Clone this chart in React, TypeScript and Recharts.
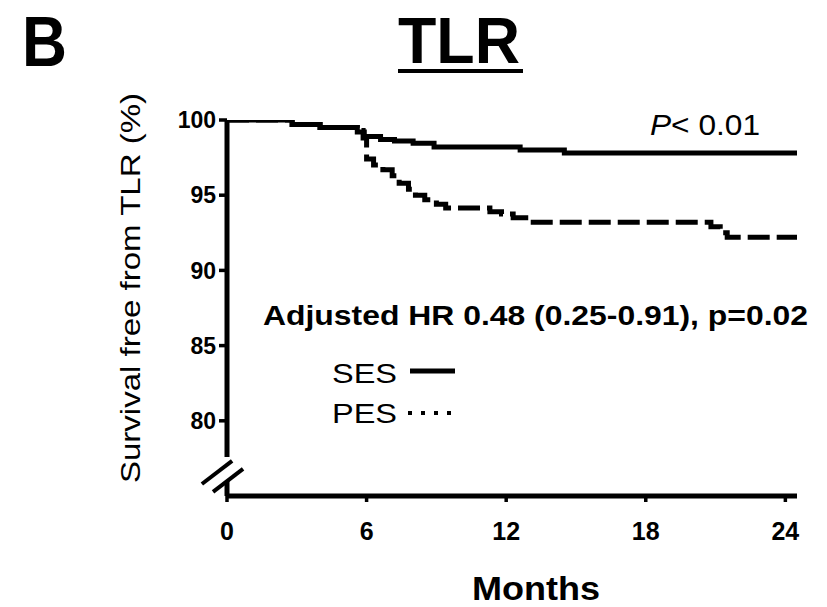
import { LineChart, Line, XAxis, YAxis, Legend, ReferenceLine } from "recharts"

const monthTicks = [0, 6, 12, 18, 24]
const survivalTicks = [80, 85, 90, 95, 100]

const sesMonths = [0, 2.8, 4.0, 5.6, 5.9, 6.6, 7.2, 8.0, 8.9, 12.6, 14.5, 24.5]
const sesSurvival = [100, 99.7, 99.5, 99.2, 98.9, 98.7, 98.6, 98.45, 98.2, 98.0, 97.8, 97.8]

const pesMonths = [0, 2.8, 4.0, 5.6, 5.85, 6.0, 6.3, 6.7, 7.1, 7.4, 7.8, 8.1, 8.5, 9.0, 9.4, 11.3, 11.8, 12.3, 13.0, 20.8, 21.2, 21.5, 24.5]
const pesSurvival = [100, 99.7, 99.5, 99.3, 98.8, 97.4, 97.0, 96.7, 96.3, 95.8, 95.4, 95.0, 94.7, 94.4, 94.15, 93.9, 93.75, 93.5, 93.2, 92.9, 92.5, 92.2, 92.2]

const ses = sesMonths.map((m, i) => ({ month: m, survival: sesSurvival[i] }))
const pes = pesMonths.map((m, i) => ({ month: m, survival: pesSurvival[i] }))

const font = "'Liberation Sans', Arial, sans-serif"

function KmLegend() {
  return (
    <svg width={140} height={80}>
      <text x={2} y={28} fontFamily={font} fontSize={28} textLength={65} lengthAdjust="spacingAndGlyphs">SES</text>
      <line x1={80} x2={125} y1={16} y2={16} stroke="#000" strokeWidth={5} />
      <text x={2} y={68} fontFamily={font} fontSize={28} textLength={65} lengthAdjust="spacingAndGlyphs">PES</text>
      <line x1={78} x2={122} y1={58} y2={58} stroke="#000" strokeWidth={4} strokeDasharray="4 9" />
    </svg>
  )
}

export default function App() {
  return (
    <div style={{ position: "absolute", left: 0, top: 0, width: 827, height: 607, background: "#fff" }}>
      <LineChart width={827} height={607} margin={{ top: 120, right: 30, left: 167, bottom: 51 }}>
        <XAxis
          dataKey="month"
          type="number"
          domain={[0, 24.5]}
          ticks={monthTicks}
          allowDataOverflow
          height={60}
          axisLine={{ stroke: "#000", strokeWidth: 5 }}
          tickLine={{ stroke: "#000", strokeWidth: 3.5 }}
          tickSize={6}
          tickMargin={20}
          tick={{ fill: "#000", fontSize: 25, fontWeight: "bold", fontFamily: font }}
        />
        <YAxis
          type="number"
          domain={[75, 100]}
          ticks={survivalTicks}
          allowDataOverflow
          width={60}
          axisLine={false}
          tickLine={{ stroke: "#000", strokeWidth: 3.5 }}
          tickSize={8}
          tickMargin={3}
          tick={{ fill: "#000", fontSize: 23, fontWeight: "bold", fontFamily: font }}
        />
        {/* broken y axis */}
        <ReferenceLine segment={[{ x: 0, y: 100 }, { x: 0, y: 77.6 }]} stroke="#000" strokeWidth={5} ifOverflow="visible" />
        <ReferenceLine segment={[{ x: 0, y: 76.0 }, { x: 0, y: 75 }]} stroke="#000" strokeWidth={5} ifOverflow="visible" />
        <ReferenceLine segment={[{ x: -1.08, y: 75.8 }, { x: 0.22, y: 77.33 }]} stroke="#000" strokeWidth={4} ifOverflow="visible" />
        <ReferenceLine segment={[{ x: -0.6, y: 75.27 }, { x: 0.69, y: 76.8 }]} stroke="#000" strokeWidth={4} ifOverflow="visible" />
        <Line data={ses} dataKey="survival" name="SES" type="stepAfter" stroke="#000" strokeWidth={5} dot={false} isAnimationActive={false} />
        <Line data={pes} dataKey="survival" name="PES" type="stepAfter" stroke="#000" strokeWidth={5} strokeDasharray="22 7" dot={false} isAnimationActive={false} />
        <Legend layout="vertical" align="center" verticalAlign="middle" content={KmLegend} wrapperStyle={{ left: 330, top: 355, width: 140, height: 80 }} />
      </LineChart>
      <svg width={827} height={607} style={{ position: "absolute", left: 0, top: 0, pointerEvents: "none" }}>
        <text x={22} y={66} fontFamily={font} fontSize={70} fontWeight="bold" textLength={45} lengthAdjust="spacingAndGlyphs">B</text>
        <text x={398} y={63} fontFamily={font} fontSize={64} fontWeight="bold" textLength={122} lengthAdjust="spacingAndGlyphs">TLR</text>
        <line x1={398} x2={523} y1={71} y2={71} stroke="#000" strokeWidth={4} />
        <text x={650} y={135} fontFamily={font} fontSize={30} textLength={110} lengthAdjust="spacingAndGlyphs">
          <tspan fontStyle="italic">P</tspan>&lt; 0.01
        </text>
        <text x={263} y={325} fontFamily={font} fontSize={28} fontWeight="bold" textLength={545} lengthAdjust="spacingAndGlyphs">
          Adjusted HR 0.48 (0.25-0.91), p=0.02
        </text>
        <text x={140} y={288} transform="rotate(-90, 140, 288)" textAnchor="middle" fontFamily={font} fontSize={28} textLength={390} lengthAdjust="spacingAndGlyphs">
          Survival free from TLR (%)
        </text>
        <text x={472} y={600} fontFamily={font} fontSize={34} fontWeight="bold" textLength={128} lengthAdjust="spacingAndGlyphs">Months</text>
      </svg>
    </div>
  )
}
